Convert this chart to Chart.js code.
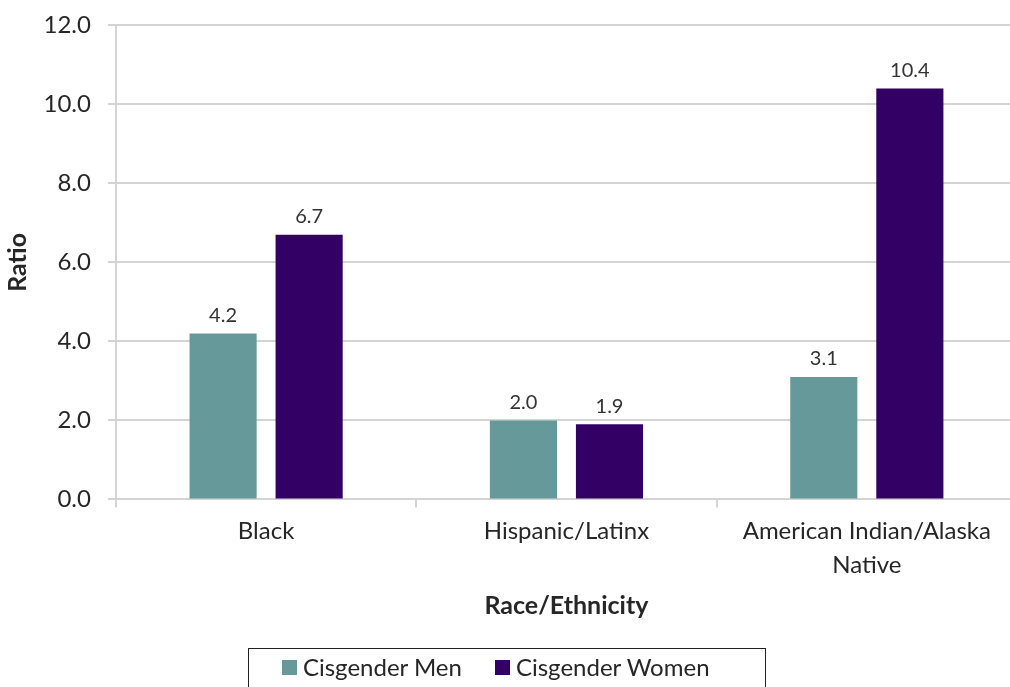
<!DOCTYPE html>
<html>
<head>
<meta charset="utf-8">
<script src="https://cdn.jsdelivr.net/npm/chart.js@4.4.1/dist/chart.umd.min.js"></script>
<style>
  html, body { margin: 0; padding: 0; background: #fff; overflow: hidden; width: 1010px; height: 687px; }
  #wrap { position: absolute; left: 0; top: 0; width: 1018px; height: 687px; }
  #legend {
    position: absolute; left: 248px; top: 648px; width: 518px; height: 50px;
    border: 1.5px solid #222; box-sizing: border-box;
    font-family: Lato, "Open Sans", sans-serif; font-size: 24px; color: #262626;
  }
  #legend .item { position: absolute; top: 4px; line-height: 28px; white-space: nowrap; }
  #legend .swatch { display: inline-block; width: 15px; height: 15px; margin-right: 6px; vertical-align: 1px; }
</style>
</head>
<body>
<div id="wrap"><canvas id="ratioChart"></canvas></div>
<div id="legend"></div>
<script>
const categories = ['Black', 'Hispanic/Latinx', ['American Indian/Alaska', 'Native']];
const menValues = [4.2, 2.0, 3.1];
const womenValues = [6.7, 1.9, 10.4];
const seriesNames = ['Cisgender Men', 'Cisgender Women'];
const seriesColors = ['#669999', '#330066'];
const yTicks = [0, 2, 4, 6, 8, 10, 12];

const FONT = 'Lato, "Open Sans", sans-serif';
const TEXT = '#262626';
const GRID = '#d4d4d4';

// value labels above each bar
const barLabels = {
  id: 'barLabels',
  afterDatasetsDraw(chart) {
    const ctx = chart.ctx;
    ctx.save();
    ctx.font = '20px ' + FONT;
    ctx.fillStyle = '#333';
    ctx.textAlign = 'center';
    ctx.textBaseline = 'bottom';
    chart.data.datasets.forEach((ds, i) => {
      chart.getDatasetMeta(i).data.forEach((bar, j) => {
        ctx.fillText(ds.data[j].toFixed(1), bar.x, bar.y - 8);
      });
    });
    ctx.restore();
  }
};

new Chart(document.getElementById('ratioChart'), {
  type: 'bar',
  data: {
    labels: categories,
    datasets: [
      { label: seriesNames[0], data: menValues, backgroundColor: seriesColors[0] },
      { label: seriesNames[1], data: womenValues, backgroundColor: seriesColors[1] }
    ]
  },
  options: {
    responsive: true,
    maintainAspectRatio: false,
    animation: false,
    categoryPercentage: 0.573,
    barPercentage: 0.78,
    layout: { padding: { left: 0, right: 1, top: 0, bottom: 56 } },
    plugins: {
      tooltip: { enabled: false },
      legend: { display: false }
    },
    scales: {
      y: {
        min: 0,
        max: 12,
        afterBuildTicks(axis) { axis.ticks = yTicks.map(v => ({ value: v })); },
        ticks: {
          callback: v => v.toFixed(1),
          font: { family: FONT, size: 24, lineHeight: 0.7 },
          color: TEXT,
          padding: 17
        },
        grid: { color: GRID, lineWidth: 2, tickLength: 8 },
        border: { color: GRID, width: 2 },
        title: {
          display: true,
          text: 'Ratio',
          font: { family: FONT, size: 25, weight: 'bold', lineHeight: 0.7 },
          color: TEXT,
          padding: { top: 9, bottom: 0 }
        }
      },
      x: {
        ticks: {
          font: { family: FONT, size: 24, lineHeight: 1.45 },
          color: TEXT,
          padding: 6
        },
        grid: { color: GRID, lineWidth: 2, tickLength: 8, drawOnChartArea: false },
        border: { color: GRID, width: 2 },
        title: {
          display: true,
          text: 'Race/Ethnicity',
          font: { family: FONT, size: 25, weight: 'bold' },
          color: TEXT,
          padding: { top: 2, bottom: 10 }
        }
      }
    }
  },
  plugins: [barLabels]
});

// legend drawn as a framed row under the chart
const legendEl = document.getElementById('legend');
const legendX = [33, 246];
seriesNames.forEach((name, i) => {
  const item = document.createElement('span');
  item.className = 'item';
  item.style.left = legendX[i] + 'px';
  const sw = document.createElement('span');
  sw.className = 'swatch';
  sw.style.background = seriesColors[i];
  item.appendChild(sw);
  item.appendChild(document.createTextNode(name));
  legendEl.appendChild(item);
});
</script>
</body>
</html>
